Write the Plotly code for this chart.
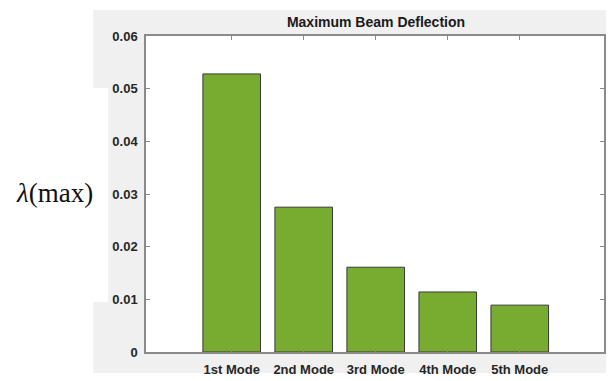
import plotly.graph_objects as go

# Mode shapes and their maximum beam deflection
modes = ["1st Mode", "2nd Mode", "3rd Mode", "4th Mode", "5th Mode"]
deflection = [0.0528, 0.0275, 0.0161, 0.0114, 0.0089]
y_ticks = [0, 0.01, 0.02, 0.03, 0.04, 0.05, 0.06]
y_tick_text = ["0", "0.01", "0.02", "0.03", "0.04", "0.05", "0.06"]

W, H = 608, 381
L, R, T, B = 146, 2, 36, 29
pw, ph = W - L - R, H - T - B


def px_x(x):
    return (x - L) / pw


def px_y(y):
    return (H - B - y) / ph


fig = go.Figure(
    go.Bar(
        x=modes,
        y=deflection,
        marker=dict(color="#77AC30", line=dict(color="#3a3a3a", width=1)),
    )
)

axis_common = dict(
    showline=True,
    linecolor="#8a8a8a",
    linewidth=1.5,
    mirror="ticks",
    ticks="inside",
    ticklen=4,
    tickcolor="#8a8a8a",
    tickwidth=1,
    showgrid=False,
    zeroline=False,
    tickfont=dict(family="Liberation Sans, Arial", size=13, color="#262626", weight="bold"),
)

fig.update_xaxes(range=[-1.19, 5.17], ticklabelstandoff=5, **axis_common)
fig.update_yaxes(range=[0, 0.06], tickvals=y_ticks, ticktext=y_tick_text,
                 ticklabelstandoff=4, **axis_common)

# grey figure panel behind the axes, with a white patch where the label sits
fig.add_shape(type="rect", xref="paper", yref="paper",
              x0=px_x(93), x1=px_x(608), y0=px_y(373), y1=px_y(10),
              fillcolor="#f0f0f0", line=dict(width=0), layer="below")
fig.add_shape(type="rect", xref="paper", yref="paper",
              x0=px_x(80), x1=px_x(108), y0=px_y(302), y1=px_y(88),
              fillcolor="white", line=dict(width=0), layer="below")
fig.add_shape(type="rect", xref="paper", yref="paper",
              x0=0, x1=1, y0=0, y1=1,
              fillcolor="white", line=dict(width=0), layer="below")

fig.add_annotation(
    text="<i>λ</i>(max)", xref="paper", yref="paper",
    x=px_x(54), y=px_y(193), xanchor="center", yanchor="middle",
    showarrow=False,
    font=dict(family="Liberation Serif, Times New Roman", size=27, color="#111111"),
)

fig.update_layout(
    width=W,
    height=H,
    margin=dict(l=L, r=R, t=T, b=B),
    paper_bgcolor="white",
    plot_bgcolor="white",
    bargap=0.2,
    showlegend=False,
    title=dict(
        text="Maximum Beam Deflection",
        x=376 / W, xanchor="center",
        y=1 - 22 / H, yanchor="middle",
        font=dict(family="Liberation Sans, Arial", size=14, color="#1a1a1a", weight="bold"),
    ),
)

fig.write_html("out.html")
